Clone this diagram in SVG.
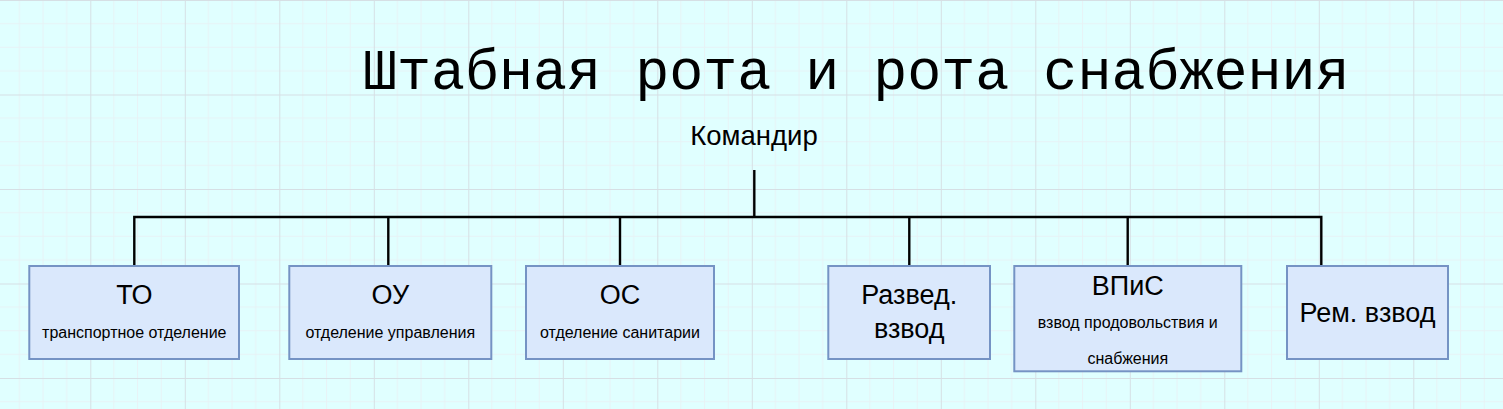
<svg xmlns="http://www.w3.org/2000/svg" width="1503" height="409" viewBox="0 0 1503 409">
  <style>
    .box { fill: #dae8fc; stroke: #7593c4; stroke-width: 2; }
    .lbl { font-family: "Liberation Sans", Arial, sans-serif; font-size: 27px; fill: #000; text-anchor: middle; }
    .sub { font-family: "Liberation Sans", Arial, sans-serif; font-size: 16px; fill: #000; text-anchor: middle; }
    .title { font-family: "Liberation Mono", "Courier New", monospace; font-size: 56.7px; fill: #000; }
    .conn { fill: none; stroke: #000; stroke-width: 2.4; stroke-linejoin: miter; stroke-linecap: butt; }
  </style>
  <defs>
    <pattern id="grid" patternUnits="userSpaceOnUse" x="-4.2" y="0" width="94.5" height="94.5">
      <path d="M23.6 0V94.5M47.25 0V94.5M70.9 0V94.5M0 23.6H94.5M0 47.25H94.5M0 70.9H94.5" stroke="#e7f2f5" stroke-width="1" fill="none"/>
      <path d="M0.5 0V94.5M0 0.5H94.5" stroke="#d6dfe4" stroke-width="1" fill="none"/>
    </pattern>
  </defs>
  <rect x="0" y="0" width="1503" height="409" fill="#e0ffff"/>
  <rect x="0" y="0" width="1503" height="409" fill="url(#grid)"/>

  <text class="title" x="363" y="89">Штабная рота и рота снабжения</text>

  <g id="connectors">
    <path class="conn" d="M754.3 170V217"/>
    <path class="conn" d="M134.3 265V217H1321.3V265"/>
    <path class="conn" d="M388.3 217V265"/>
    <path class="conn" d="M620 217V265"/>
    <path class="conn" d="M909.3 217V265"/>
    <path class="conn" d="M1127.7 217V265"/>
  </g>

  <g id="commander">
    <text class="lbl" style="font-size:27.5px" x="754" y="145">Командир</text>
  </g>

  <g id="to">
    <rect class="box" x="29.3" y="266" width="209.7" height="93"/>
    <text class="lbl" x="134.3" y="304">ТО</text>
    <text class="sub" x="134.3" y="338">транспортное отделение</text>
  </g>

  <g id="ou">
    <rect class="box" x="289.3" y="266" width="202" height="93"/>
    <text class="lbl" x="390.3" y="304">ОУ</text>
    <text class="sub" x="390.3" y="338">отделение управления</text>
  </g>

  <g id="os">
    <rect class="box" x="526" y="266" width="188" height="93"/>
    <text class="lbl" x="620" y="304">ОС</text>
    <text class="sub" x="620" y="338">отделение санитарии</text>
  </g>

  <g id="razved">
    <rect class="box" x="828.3" y="266" width="161.7" height="93"/>
    <text class="lbl" x="909.2" y="304">Развед.</text>
    <text class="lbl" x="909.2" y="338">взвод</text>
  </g>

  <g id="vpis">
    <rect class="box" x="1014.3" y="266" width="227" height="105.3"/>
    <text class="lbl" x="1127.8" y="295">ВПиС</text>
    <text class="sub" x="1127.8" y="328">взвод продовольствия и</text>
    <text class="sub" x="1127.8" y="364">снабжения</text>
  </g>

  <g id="rem">
    <rect class="box" x="1287" y="266" width="161" height="93"/>
    <text class="lbl" x="1367.5" y="321.7">Рем. взвод</text>
  </g>
</svg>
